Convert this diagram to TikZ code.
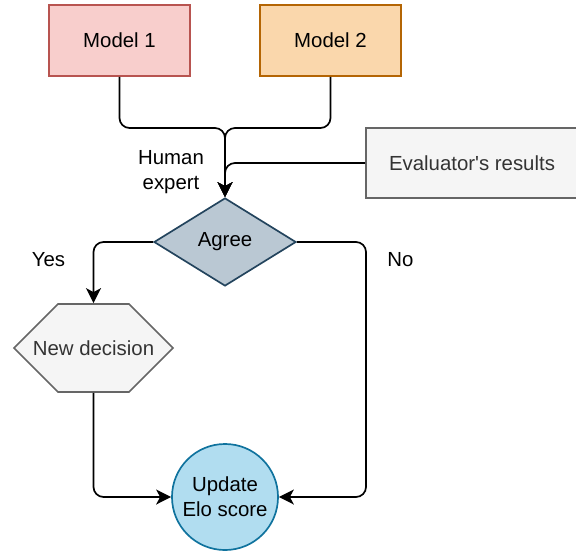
\documentclass[tikz,border=0pt]{standalone}
\usepackage{fontspec}
\setmainfont{Liberation Sans}[Ligatures=TeXOff]
\usepackage{tikz}
\usetikzlibrary{shapes.geometric, shapes.misc, arrows.meta}
\definecolor{redfill}{RGB}{248, 206, 204}
\definecolor{redline}{RGB}{184, 84, 80}
\definecolor{orangefill}{RGB}{250, 215, 172}
\definecolor{orangeline}{RGB}{180, 101, 4}
\definecolor{greyfill}{RGB}{245, 245, 245}
\definecolor{greyline}{RGB}{102, 102, 102}
\definecolor{greytext}{RGB}{51, 51, 51}
\definecolor{slatefill}{RGB}{186, 200, 211}
\definecolor{slateline}{RGB}{35, 68, 93}
\definecolor{bluefill}{RGB}{177, 221, 240}
\definecolor{blueline}{RGB}{16, 115, 158}

\begin{document}
\begin{tikzpicture}[x=0.025cm, y=-0.025cm, line width=1.2pt,
font=\fontsize{14.5pt}{17.5pt}\selectfont,
model/.style={draw, rectangle, minimum width=3.525cm, minimum height=1.775cm, inner sep=0},
flow/.style={-{Stealth[length=0.375cm, width=0.375cm, inset=0.1cm]}, rounded corners=0.25cm}
]
  \useasboundingbox (0, 0) rectangle (576, 551);

  \node[model, draw=redline, fill=redfill] (model1) at (119.5, 40.5) { Model 1 };
  \node[model, draw=orangeline, fill=orangefill] (model2) at (330.5, 40.5) { Model 2 };
  \node[model, draw=greyline, fill=greyfill, text=greytext, minimum width=5.3cm,
    minimum height=1.75cm] (evaluator) at (472, 163) { Evaluator's results };

  \node[diamond, draw=slateline, fill=slatefill, minimum width=3.55cm,
    minimum height=2.2cm, inner sep=0] (agree) at (225, 242) { Agree };
  \node[chamfered rectangle, chamfered rectangle xsep=0.875cm, chamfered rectangle ysep=1.1cm,
    draw=greyline, fill=greyfill, text=greytext, minimum width=3.975cm,
    minimum height=2.2cm, inner sep=0] (decision) at (93.5, 348)
    { \smash{\raisebox{-0.36em}{New decision}} };
  \node[circle, draw=blueline, fill=bluefill, minimum size=2.65cm, inner sep=0,
    align=center] (elo) at (225, 497) { Update\\Elo score };

  \node[align=center] (human) at (171, 172) { Human\\expert };
  \node[] (yes) at (48.5, 260) { Yes };
  \node[] (no) at (400.5, 260) { No };

  \coordinate (join) at (225, 128);
  \coordinate (nocorner) at (366, 497);

  \draw[flow] (model1.south) |- (join) -- (agree.north);
  \draw[flow] (model2.south) |- (join) -- (agree.north);
  \draw[flow] (evaluator.west) -| (agree.north);
  \draw[flow] (agree.west) -| (decision.north);
  \draw[flow] (agree.east) -| (nocorner) -- (elo.east);
  \draw[flow] (decision.south) |- (elo.west);

\end{tikzpicture}
\end{document}
